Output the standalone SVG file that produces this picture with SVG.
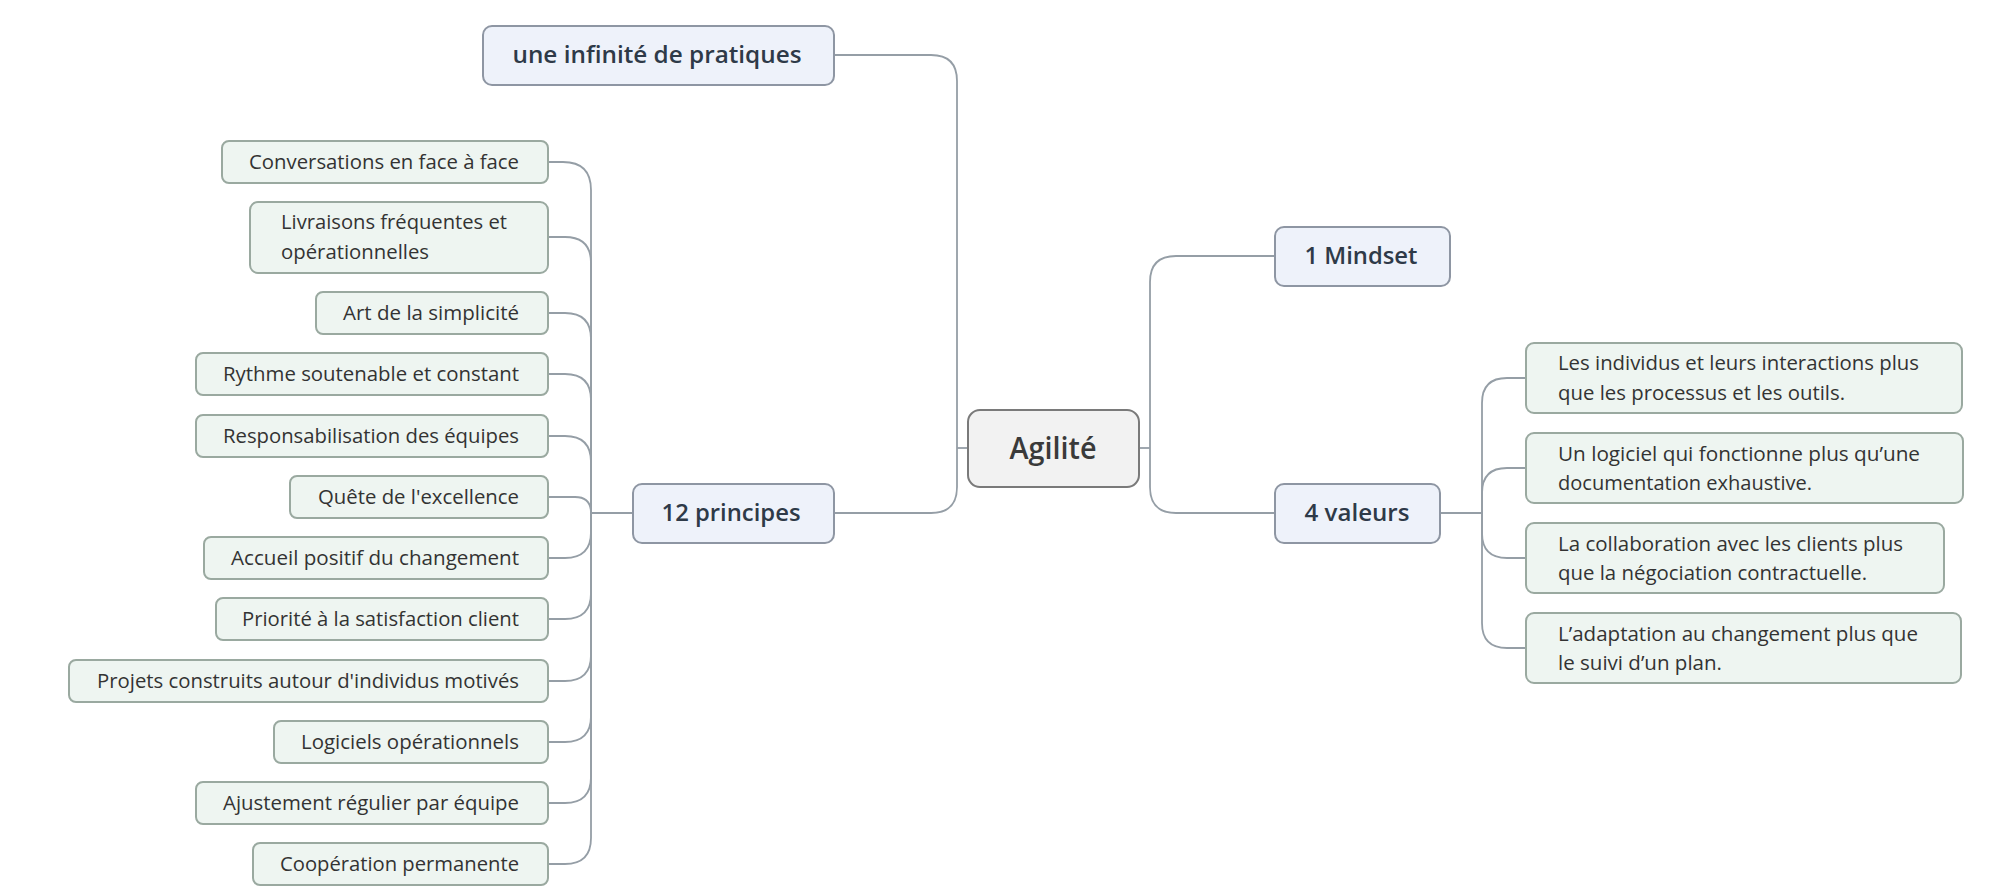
<svg xmlns="http://www.w3.org/2000/svg" width="2015" height="896" viewBox="0 0 2015 896">
<style>
.bg{fill:#ffffff}
.main rect{fill:#eef2fa;stroke:#8e96a3;stroke-width:2}
.main text{font-family:"Open Sans","Noto Sans",sans-serif;font-weight:600;font-size:23.5px;fill:#2e3a48;text-anchor:middle}
.root rect{fill:#f2f2f2;stroke:#7a7a7a;stroke-width:2}
.root text{font-family:"Open Sans","Noto Sans",sans-serif;font-weight:600;font-size:31px;fill:#3a3a3a;text-anchor:middle}
.leaf rect{fill:#eef5f1;stroke:#9aa9a0;stroke-width:2}
.leaf text{font-family:"Open Sans","Noto Sans",sans-serif;font-size:19.5px;fill:#333333}
.r text{text-anchor:end}
.conn path{fill:none;stroke:#959ea6;stroke-width:1.8}
</style>
<rect class="bg" x="0" y="0" width="2015" height="896"/>
<g id="connectors" class="conn">
<path d="M968,448 H957"/>
<path d="M957,448 V81 Q957,55 931,55 H834"/>
<path d="M957,448 V487 Q957,513 931,513 H834"/>
<path d="M1139,448 H1150"/>
<path d="M1150,448 V282 Q1150,256 1176,256 H1275"/>
<path d="M1150,448 V487 Q1150,513 1176,513 H1275"/>
<path d="M1440,513 H1482"/>
<path d="M1482,513 V403 Q1482,378 1507,378 H1526"/>
<path d="M1482,513 V493 Q1482,468 1507,468 H1526"/>
<path d="M1482,513 V533 Q1482,558 1507,558 H1526"/>
<path d="M1482,513 V623 Q1482,648 1507,648 H1526"/>
<path d="M633,513 H591"/>
<path d="M591,513 V190 Q591,162 563,162 H548"/>
<path d="M591,513 V263 Q591,237 565,237 H548"/>
<path d="M591,513 V339 Q591,313 565,313 H548"/>
<path d="M591,513 V400 Q591,374 565,374 H548"/>
<path d="M591,513 V462 Q591,436 565,436 H548"/>
<path d="M591,513 Q591,497 575,497 H548"/>
<path d="M591,513 V532 Q591,558 565,558 H548"/>
<path d="M591,513 V593 Q591,619 565,619 H548"/>
<path d="M591,513 V655 Q591,681 565,681 H548"/>
<path d="M591,513 V716 Q591,742 565,742 H548"/>
<path d="M591,513 V777 Q591,803 565,803 H548"/>
<path d="M591,513 V838 Q591,864 565,864 H548"/>
</g>
<g id="agilite" class="root"><rect x="968" y="410" width="171" height="77" rx="12"/><text x="1053" y="459" textLength="87" lengthAdjust="spacingAndGlyphs">Agilité</text></g>
<g id="pratiques" class="main"><rect x="483" y="26" width="351" height="59" rx="9"/><text x="657" y="63" textLength="289" lengthAdjust="spacingAndGlyphs">une infinité de pratiques</text></g>
<g id="principes" class="main"><rect x="633" y="484" width="201" height="59" rx="9"/><text x="731" y="521" textLength="139" lengthAdjust="spacingAndGlyphs">12 principes</text></g>
<g id="mindset" class="main"><rect x="1275" y="227" width="175" height="59" rx="9"/><text x="1361" y="264" textLength="113" lengthAdjust="spacingAndGlyphs">1 Mindset</text></g>
<g id="valeurs" class="main"><rect x="1275" y="484" width="165" height="59" rx="9"/><text x="1357" y="521" textLength="105" lengthAdjust="spacingAndGlyphs">4 valeurs</text></g>
<g id="p1" class="leaf r"><rect x="222" y="141" width="326" height="42" rx="7"/><text x="519" y="169" textLength="270" lengthAdjust="spacingAndGlyphs">Conversations en face à face</text></g>
<g id="p2" class="leaf"><rect x="250" y="202" width="298" height="71" rx="8"/><text x="281" y="229" textLength="226" lengthAdjust="spacingAndGlyphs">Livraisons fréquentes et</text><text x="281" y="259" textLength="148" lengthAdjust="spacingAndGlyphs">opérationnelles</text></g>
<g id="p3" class="leaf r"><rect x="316" y="292" width="232" height="42" rx="7"/><text x="519" y="320" textLength="176" lengthAdjust="spacingAndGlyphs">Art de la simplicité</text></g>
<g id="p4" class="leaf r"><rect x="196" y="353" width="352" height="42" rx="7"/><text x="519" y="381" textLength="296" lengthAdjust="spacingAndGlyphs">Rythme soutenable et constant</text></g>
<g id="p5" class="leaf r"><rect x="196" y="415" width="352" height="42" rx="7"/><text x="519" y="443" textLength="296" lengthAdjust="spacingAndGlyphs">Responsabilisation des équipes</text></g>
<g id="p6" class="leaf r"><rect x="290" y="476" width="258" height="42" rx="7"/><text x="519" y="504" textLength="201" lengthAdjust="spacingAndGlyphs">Quête de l'excellence</text></g>
<g id="p7" class="leaf r"><rect x="204" y="537" width="344" height="42" rx="7"/><text x="519" y="565" textLength="288" lengthAdjust="spacingAndGlyphs">Accueil positif du changement</text></g>
<g id="p8" class="leaf r"><rect x="216" y="598" width="332" height="42" rx="7"/><text x="519" y="626" textLength="277" lengthAdjust="spacingAndGlyphs">Priorité à la satisfaction client</text></g>
<g id="p9" class="leaf r"><rect x="69" y="660" width="479" height="42" rx="7"/><text x="519" y="688" textLength="422" lengthAdjust="spacingAndGlyphs">Projets construits autour d'individus motivés</text></g>
<g id="p10" class="leaf r"><rect x="274" y="721" width="274" height="42" rx="7"/><text x="519" y="749" textLength="218" lengthAdjust="spacingAndGlyphs">Logiciels opérationnels</text></g>
<g id="p11" class="leaf r"><rect x="196" y="782" width="352" height="42" rx="7"/><text x="519" y="810" textLength="296" lengthAdjust="spacingAndGlyphs">Ajustement régulier par équipe</text></g>
<g id="p12" class="leaf r"><rect x="253" y="843" width="295" height="42" rx="7"/><text x="519" y="871" textLength="239" lengthAdjust="spacingAndGlyphs">Coopération permanente</text></g>
<g id="v1" class="leaf"><rect x="1526" y="343" width="436" height="70" rx="8"/><text x="1558" y="370" textLength="361" lengthAdjust="spacingAndGlyphs">Les individus et leurs interactions plus</text><text x="1558" y="400" textLength="287" lengthAdjust="spacingAndGlyphs">que les processus et les outils.</text></g>
<g id="v2" class="leaf"><rect x="1526" y="433" width="437" height="70" rx="8"/><text x="1558" y="461" textLength="362" lengthAdjust="spacingAndGlyphs">Un logiciel qui fonctionne plus qu’une</text><text x="1558" y="490" textLength="254" lengthAdjust="spacingAndGlyphs">documentation exhaustive.</text></g>
<g id="v3" class="leaf"><rect x="1526" y="523" width="418" height="70" rx="8"/><text x="1558" y="551" textLength="345" lengthAdjust="spacingAndGlyphs">La collaboration avec les clients plus</text><text x="1558" y="580" textLength="309" lengthAdjust="spacingAndGlyphs">que la négociation contractuelle.</text></g>
<g id="v4" class="leaf"><rect x="1526" y="613" width="435" height="70" rx="8"/><text x="1558" y="641" textLength="360" lengthAdjust="spacingAndGlyphs">L’adaptation au changement plus que</text><text x="1558" y="670" textLength="164" lengthAdjust="spacingAndGlyphs">le suivi d’un plan.</text></g>
</svg>
